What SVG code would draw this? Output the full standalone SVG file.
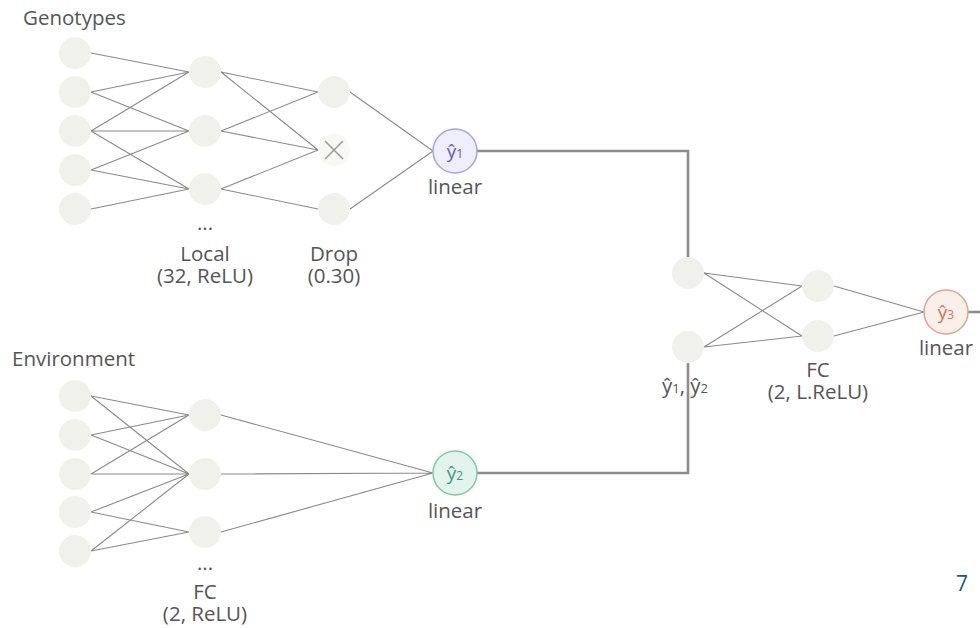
<svg xmlns="http://www.w3.org/2000/svg" width="980" height="628" viewBox="0 0 980 628">
<style>
.n{fill:#f1f1eb}
.e{stroke:#8a8a8a;stroke-width:1.1;fill:none}
.t{stroke:#8c8c8c;stroke-width:2.6;fill:none}
.l{font-family:"Open Sans","Noto Sans",sans-serif;font-size:20.5px;fill:#555}
.c{text-anchor:middle}
.y{font-family:"Open Sans","Noto Sans",sans-serif;font-size:19px;text-anchor:middle}
</style>
<rect width="980" height="628" fill="#fff"/>
<g id="connectors">
<g class="e">
<path d="M91 53L189 72M91 92L189 72M91 92L189 131M91 131L189 72M91 131L189 131M91 131L189 189M91 170L189 131M91 170L189 189M91 209L189 189"/>
<path d="M221 72L318 92M221 72L318 150M221 131L318 92M221 131L318 150M221 189L318 150M221 189L318 209"/>
<path d="M350 92L433 151M350 209L433 151"/>
<path d="M91 396L189 415M91 396L189 474M91 435L189 415M91 435L189 474M91 474L189 415M91 474L189 474M91 512L189 474M91 512L189 532M91 551L189 474M91 551L189 532"/>
<path d="M221 415L433 473M221 474L433 473M221 532L433 473"/>
<path d="M704 273L802 286M704 273L802 336M704 347L802 286M704 347L802 336"/>
<path d="M834 286L924 312M834 336L924 312"/>
</g>
<path class="t" d="M477 151H688V257"/>
<path class="t" d="M477 473H688V363"/>
<path class="t" d="M968 312H980"/>
</g>
<g id="genotypes-input">
<circle class="n" cx="75" cy="53" r="16"/>
<circle class="n" cx="75" cy="92" r="16"/>
<circle class="n" cx="75" cy="131" r="16"/>
<circle class="n" cx="75" cy="170" r="16"/>
<circle class="n" cx="75" cy="209" r="16"/>
<text class="l" x="23" y="25">Genotypes</text>
</g>
<g id="local">
<circle class="n" cx="205" cy="72" r="16"/>
<circle class="n" cx="205" cy="131" r="16"/>
<circle class="n" cx="205" cy="189" r="16"/>
<text class="l c" x="205" y="230">...</text>
<text class="l c" x="205" y="261">Local</text>
<text class="l c" x="205" y="283">(32, ReLU)</text>
</g>
<g id="drop">
<circle class="n" cx="334" cy="92" r="16"/>
<circle cx="334" cy="150" r="16" fill="#f8f8f4"/>
<path d="M325 141L343 159M343 141L325 159" stroke="#999" stroke-width="1.5"/>
<circle class="n" cx="334" cy="209" r="16"/>
<text class="l c" x="334" y="261">Drop</text>
<text class="l c" x="334" y="283">(0.30)</text>
</g>
<g id="y1">
<circle cx="455" cy="151" r="22" fill="#eeeefc" stroke="#a4a4f0" stroke-width="1.5"/>
<text class="y" x="455" y="158" fill="#5b5bd0">ŷ<tspan font-size="12">1</tspan></text>
<text class="l c" x="455" y="194">linear</text>
</g>
<g id="environment-input">
<circle class="n" cx="75" cy="396" r="16"/>
<circle class="n" cx="75" cy="435" r="16"/>
<circle class="n" cx="75" cy="474" r="16"/>
<circle class="n" cx="75" cy="512" r="16"/>
<circle class="n" cx="75" cy="551" r="16"/>
<text class="l" x="12" y="366">Environment</text>
</g>
<g id="fc-env">
<circle class="n" cx="205" cy="415" r="16"/>
<circle class="n" cx="205" cy="474" r="16"/>
<circle class="n" cx="205" cy="532" r="16"/>
<text class="l c" x="205" y="570">...</text>
<text class="l c" x="205" y="599">FC</text>
<text class="l c" x="205" y="621">(2, ReLU)</text>
</g>
<g id="y2">
<circle cx="455" cy="473" r="22" fill="#e2f4ed" stroke="#82c8ab" stroke-width="1.5"/>
<text class="y" x="455" y="480" fill="#3c9a78">ŷ<tspan font-size="12">2</tspan></text>
<text class="l c" x="455" y="518">linear</text>
</g>
<g id="combined">
<circle class="n" cx="688" cy="273" r="16"/>
<circle class="n" cx="688" cy="347" r="16"/>
<text class="l c" x="685" y="393">ŷ<tspan font-size="13">1</tspan>, ŷ<tspan font-size="13">2</tspan></text>
</g>
<g id="fc2">
<circle class="n" cx="818" cy="286" r="16"/>
<circle class="n" cx="818" cy="336" r="16"/>
<text class="l c" x="818" y="377">FC</text>
<text class="l c" x="818" y="399">(2, L.ReLU)</text>
</g>
<g id="y3">
<circle cx="946" cy="312" r="22" fill="#fbefe9" stroke="#e2a592" stroke-width="1.5"/>
<text class="y" x="946" y="319" fill="#d2735c">ŷ<tspan font-size="12">3</tspan></text>
<text class="l c" x="946" y="355">linear</text>
</g>
<text x="956" y="591" font-family="Open Sans,sans-serif" font-size="21" fill="#1b5a80">7</text>
</svg>
